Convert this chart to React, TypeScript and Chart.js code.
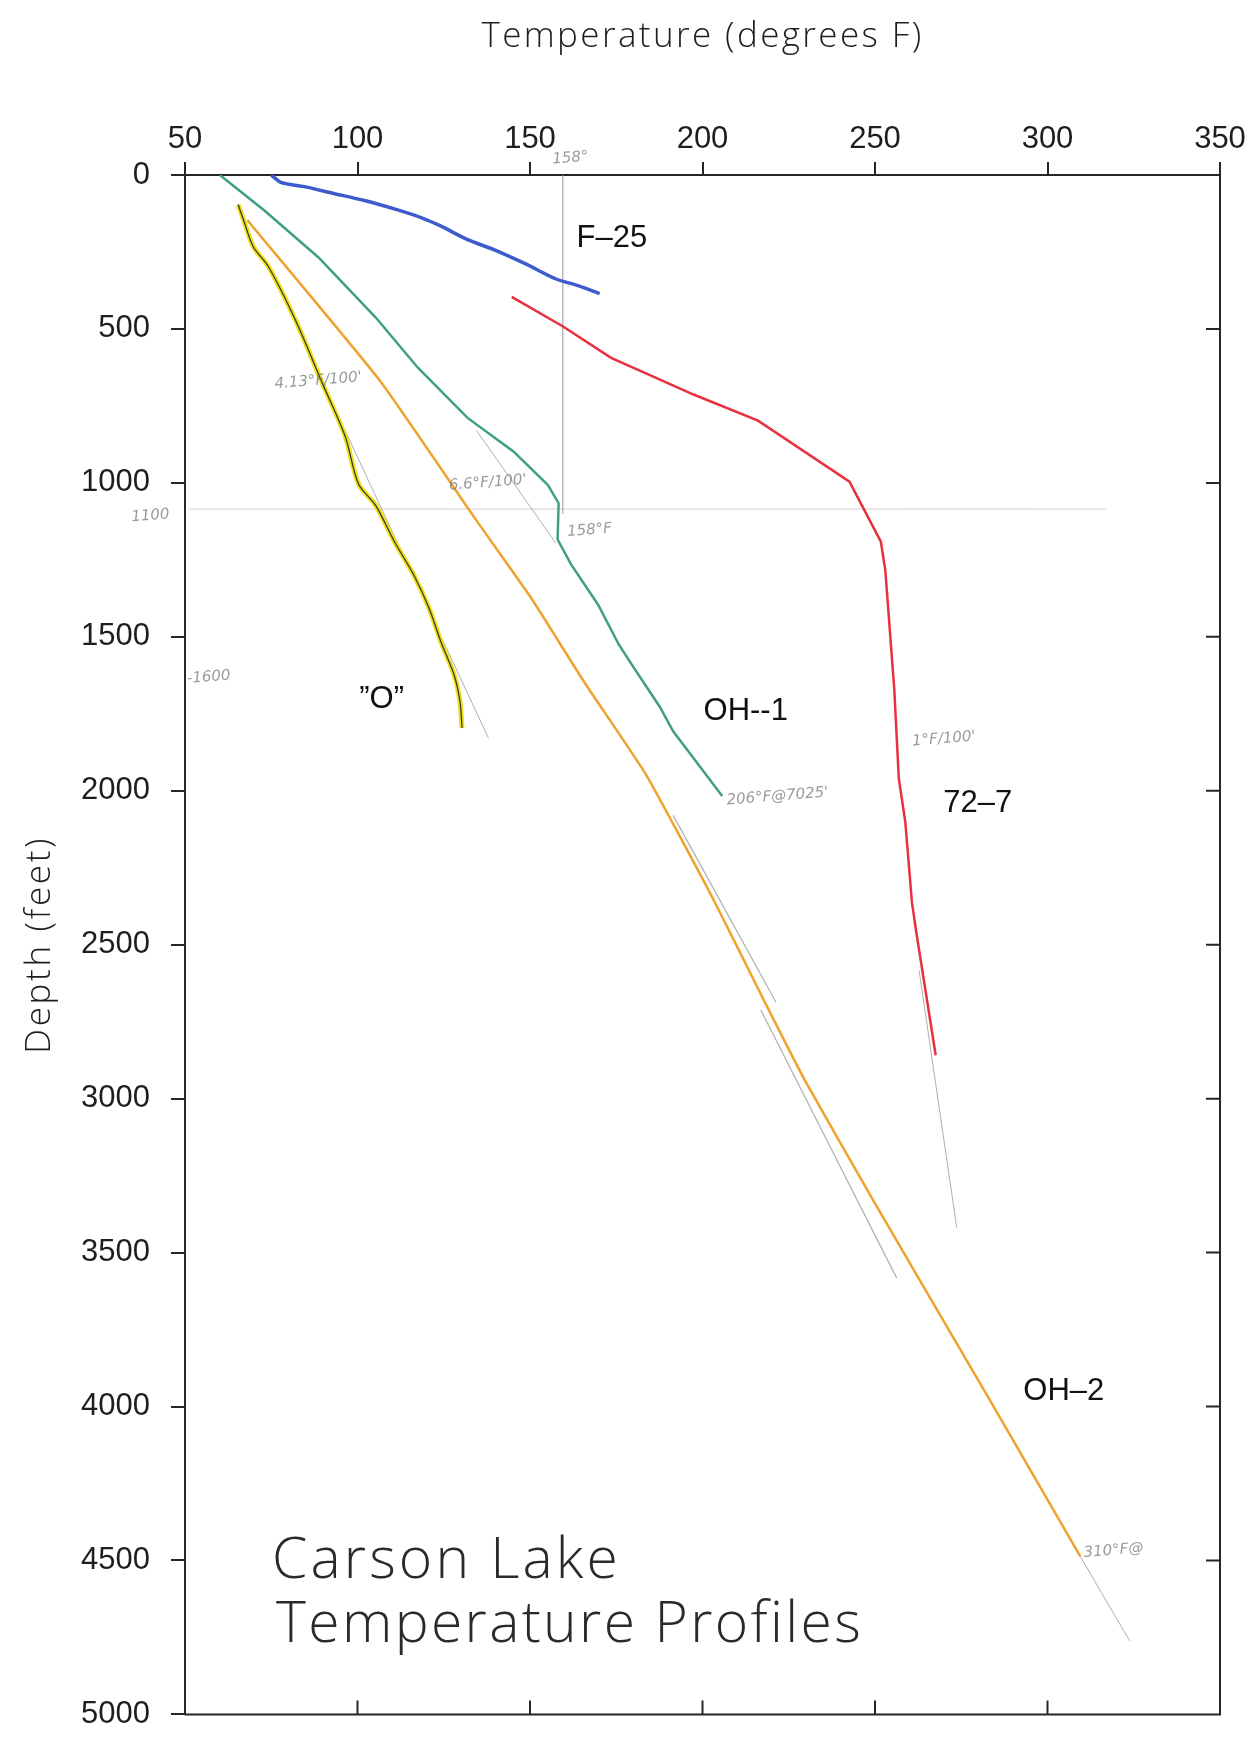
import React, { useEffect, useRef } from "react";
import { Chart, registerables } from "chart.js";

Chart.register(...registerables);

// ---------- axis ticks ----------
const tempTicks = [50, 100, 150, 200, 250, 300, 350];
const depthTicks = [0, 500, 1000, 1500, 2000, 2500, 3000, 3500, 4000, 4500, 5000];

// ---------- well profiles (temperature °F, depth ft) ----------
const f25Temp = [75, 78, 84.2, 93.1, 102, 110.9, 118.6, 124.2, 131.9, 139.7, 148.6, 157.4, 164.1, 170.2];
const f25Depth = [0, 25, 37, 60, 83, 111, 139, 166, 210, 243, 288, 337, 360, 385];

const w727Temp = [144.7, 159.7, 173.5, 184.1, 197.4, 216.1, 242.6, 251.7, 253, 255.6, 256.9, 258.8, 260.7, 262, 267.6];
const w727Depth = [396, 493, 594, 647, 713, 798, 996, 1191, 1285, 1673, 1960, 2103, 2362, 2462, 2859];

const oh1Temp = [60.1, 73.1, 88.7, 105.3, 117.5, 131.9, 145.2, 155.2, 158.3, 158, 161.9, 169.7, 175.7, 178.6, 187.6, 191.5, 205.7];
const oh1Depth = [0, 116, 268, 463, 626, 789, 898, 1007, 1066, 1184, 1265, 1395, 1524, 1575, 1727, 1807, 2017];

const oh2Temp = [68.1, 106.4, 134.1, 150.1, 165.6, 183.7, 203.2, 217.4, 229.6, 250.2, 284.1, 309.5];
const oh2Depth = [147, 667, 1116, 1370, 1645, 1949, 2354, 2672, 2939, 3344, 3995, 4487];

const oTemp = [65.4, 67, 69.8, 74.2, 82, 89.8, 96.4, 100.3, 105.3, 110.8, 116.4, 120.8, 124.2, 128, 129.7, 130.3];
const oDepth = [96, 147, 233, 298, 471, 676, 848, 1004, 1074, 1193, 1301, 1409, 1517, 1624, 1710, 1796];

// ---------- pencil guide lines (temperature pairs, depth pairs) ----------
const guide158Temp = [159.5, 159.5];
const guide158Depth = [0, 1100];
const guide1100Temp = [51, 317];
const guide1100Depth = [1085, 1085];
const grad413Temp = [96, 138];
const grad413Depth = [820, 1830];
const grad66Temp = [134.5, 157.5];
const grad66Depth = [830, 1196];
const gradA_Temp = [191.5, 221.3];
const gradA_Depth = [2080, 2687];
const gradB_Temp = [216.9, 256.3];
const gradB_Depth = [2712, 3583];
const grad727Temp = [262.8, 273.7];
const grad727Depth = [2585, 3419];
const oh2ExtTemp = [309.5, 323.8];
const oh2ExtDepth = [4487, 4761];

// ---------- labels ----------
const wellLabels = ["F\u201325", "\u201dO\u201d", "OH--1", "72\u20137", "OH\u20132"];
const wellLabelTemp = [163.5, 100.5, 200.3, 269.8, 293];
const wellLabelDepth = [205, 1702, 1742, 2040, 3952];

const noteLabels = ["158\u00b0", "4.13\u00b0F/100'", "6.6\u00b0F/100'", "158\u00b0F", "206\u00b0F@7025'", "1\u00b0F/100'", "310\u00b0F@", "1100", "-1600"];
const noteTemp = [156.5, 76, 126.5, 160.8, 207, 260.8, 310.5, 34.5, 50.6];
const noteDepth = [-50, 680, 1010, 1160, 2032, 1840, 4476, 1112, 1637];

const titleLines = ["Carson Lake", "Temperature Profiles"];

const pts = (t: number[], d: number[]) => t.map((v, i) => ({ x: v, y: d[i] }));

const GUIDE = "rgba(110,110,110,0.55)";

function drawSpaced(ctx: CanvasRenderingContext2D, text: string, x: number, y: number, width: number, align: "left" | "center") {
  (ctx as any).letterSpacing = "0px";
  const w0 = ctx.measureText(text).width;
  const n = text.length;
  const sp = n > 1 ? (width - w0) / n : 0;
  (ctx as any).letterSpacing = sp.toFixed(2) + "px";
  const w1 = ctx.measureText(text).width;
  ctx.textAlign = "left";
  const sx = align === "center" ? x - w1 / 2 : x;
  ctx.fillText(text, sx, y);
  (ctx as any).letterSpacing = "0px";
}

const framePlugin = {
  id: "frameAndText",
  afterDraw(chart: any) {
    const { ctx, chartArea: ca, scales } = chart;
    const xs = scales.x;
    const ys = scales.y;
    ctx.save();
    // right and bottom frame with inward ticks
    ctx.strokeStyle = "#262626";
    ctx.lineWidth = 2;
    ctx.beginPath();
    ctx.moveTo(ca.right, ca.top - 13);
    ctx.lineTo(ca.right, ca.bottom);
    ctx.lineTo(ca.left, ca.bottom);
    tempTicks.forEach((v) => {
      const px = xs.getPixelForValue(v);
      ctx.moveTo(px, ca.bottom);
      ctx.lineTo(px, ca.bottom - 14);
    });
    depthTicks.forEach((v) => {
      const py = ys.getPixelForValue(v);
      ctx.moveTo(ca.right, py);
      ctx.lineTo(ca.right - 14, py);
    });
    ctx.stroke();

    // axis titles
    ctx.fillStyle = "#1e1e1e";
    ctx.textBaseline = "alphabetic";
    ctx.font = '300 35px "Open Sans", "Liberation Sans", sans-serif';
    drawSpaced(ctx, "Temperature (degrees F)", (ca.left + ca.right) / 2, 47, 442, "center");
    ctx.save();
    ctx.translate(50, (ca.top + ca.bottom) / 2);
    ctx.rotate(-Math.PI / 2);
    drawSpaced(ctx, "Depth (feet)", 0, 0, 218, "center");
    ctx.restore();

    // well labels
    ctx.font = '31px "Liberation Sans", Arial, sans-serif';
    ctx.textBaseline = "middle";
    ctx.fillStyle = "#111";
    wellLabels.forEach((t, i) => {
      ctx.textAlign = "left";
      ctx.fillText(t, xs.getPixelForValue(wellLabelTemp[i]), ys.getPixelForValue(wellLabelDepth[i]));
    });

    // pencil notes
    ctx.font = 'italic 15px "DejaVu Sans", sans-serif';
    ctx.fillStyle = "rgba(120,120,120,0.75)";
    noteLabels.forEach((t, i) => {
      ctx.save();
      ctx.translate(xs.getPixelForValue(noteTemp[i]), ys.getPixelForValue(noteDepth[i]));
      ctx.rotate(-0.08);
      ctx.textAlign = "left";
      ctx.fillText(t, 0, 0);
      ctx.restore();
    });

    // big title block
    ctx.fillStyle = "#2a2a2a";
    ctx.textBaseline = "alphabetic";
    ctx.font = '300 57px "Open Sans", "Liberation Sans", sans-serif';
    drawSpaced(ctx, titleLines[0], ca.left + 87, 1578, 349, "left");
    drawSpaced(ctx, titleLines[1], ca.left + 91, 1642, 587, "left");
    ctx.restore();
  },
};

export default function App() {
  const ref = useRef<HTMLCanvasElement | null>(null);
  useEffect(() => {
    if (!ref.current) return;
    const line = (data: any, color: string, width: number, order = 0, tension = 0) => ({
      type: "line" as const,
      data,
      borderColor: color,
      backgroundColor: color,
      borderWidth: width,
      pointRadius: 0,
      showLine: true,
      tension,
      fill: false,
      order,
    });
    const chart = new Chart(ref.current, {
      type: "line",
      data: {
        datasets: [
          line(pts(guide158Temp, guide158Depth), "rgba(150,150,150,0.45)", 1, 9),
          line(pts(guide1100Temp, guide1100Depth), "rgba(150,150,150,0.45)", 1, 9),
          line(pts(grad413Temp, grad413Depth), GUIDE, 1, 8),
          line(pts(grad66Temp, grad66Depth), GUIDE, 1, 8),
          line(pts(gradA_Temp, gradA_Depth), GUIDE, 1.2, 8),
          line(pts(gradB_Temp, gradB_Depth), GUIDE, 1.2, 8),
          line(pts(grad727Temp, grad727Depth), GUIDE, 1, 8),
          line(pts(oh2ExtTemp, oh2ExtDepth), GUIDE, 1, 8),
          line(pts(f25Temp, f25Depth), "#3d5ccc", 3.5, 3, 0.3),
          line(pts(w727Temp, w727Depth), "#e8303e", 2.5, 3),
          line(pts(oh1Temp, oh1Depth), "#3f9f86", 2.5, 3),
          line(pts(oh2Temp, oh2Depth), "#efa22e", 2.5, 3, 0.15),
          line(pts(oTemp, oDepth), "#f0e01c", 5, 4, 0.3),
          line(pts(oTemp, oDepth), "#3a3a2a", 1.3, 2, 0.3),
        ],
      },
      options: {
        responsive: false,
        animation: false,
        events: [],
        layout: { padding: { left: 0, top: 0, right: 35, bottom: 24 } },
        plugins: { legend: { display: false }, tooltip: { enabled: false }, title: { display: false } },
        scales: {
          x: {
            type: "linear",
            position: "top",
            min: 50,
            max: 350,
            afterFit: (s: any) => {
              s.height = 175;
            },
            afterBuildTicks: (s: any) => {
              s.ticks = tempTicks.map((v) => ({ value: v }));
            },
            ticks: {
              font: { family: '"Liberation Sans", Arial, sans-serif', size: 31 },
              color: "#1e1e1e",
              padding: 4,
              maxRotation: 0,
              callback: (v: any) => String(v),
            },
            grid: { drawOnChartArea: false, drawTicks: true, tickLength: 13, color: "#262626", lineWidth: 2 },
            border: { display: true, color: "#262626", width: 2 },
          },
          y: {
            type: "linear",
            position: "left",
            reverse: true,
            min: 0,
            max: 5000,
            afterFit: (s: any) => {
              s.width = 185;
            },
            afterBuildTicks: (s: any) => {
              s.ticks = depthTicks.map((v) => ({ value: v }));
            },
            ticks: {
              font: { family: '"Liberation Sans", Arial, sans-serif', size: 31 },
              color: "#1e1e1e",
              padding: 21,
              callback: (v: any) => String(v),
            },
            grid: { drawOnChartArea: false, drawTicks: true, tickLength: 14, color: "#262626", lineWidth: 2 },
            border: { display: true, color: "#262626", width: 2 },
          },
        },
      },
      plugins: [framePlugin],
    } as any);
    return () => chart.destroy();
  }, []);
  return (
    <div style={{ position: "absolute", left: 0, top: 0, width: 1255, height: 1754, background: "#fff" }}>
      <canvas ref={ref} width={1255} height={1754} style={{ width: 1255, height: 1754, display: "block" }} />
    </div>
  );
}
